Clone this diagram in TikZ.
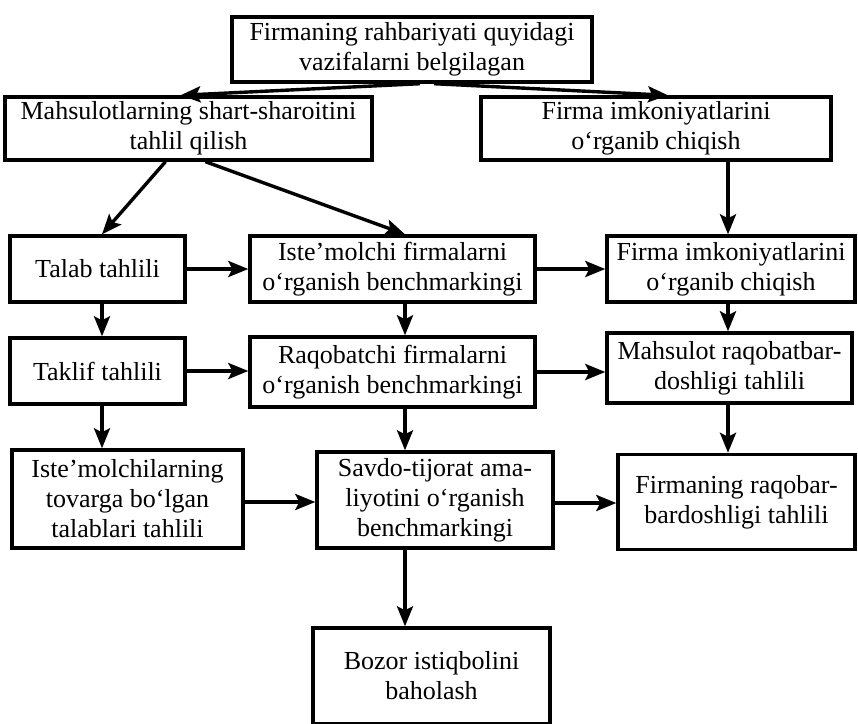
\documentclass[tikz,border=0pt]{standalone}
\usepackage{fontspec}
\setmainfont{Liberation Serif}
\usetikzlibrary{arrows.meta}
\begin{document}
\begin{tikzpicture}[x=1pt,y=-1pt,
  box/.style={draw=black,line width=3.4pt,rectangle,align=center,inner sep=2pt,
    font=\fontsize{26}{30}\selectfont},
  link/.style={line width=3.4pt,-{Stealth[length=20pt,width=16pt,inset=4pt]}}]
\useasboundingbox[fill=white] (0,0) rectangle (858,723);

% boxes (centre, width, height)
\node[box,minimum width=360pt,minimum height=65pt] (top) at (412,49.5)
  {Firmaning rahbariyati quyidagi\\vazifalarni belgilagan};
\node[box,minimum width=367pt,minimum height=63pt] (shart) at (188.5,128.5)
  {Mahsulotlarning shart-sharoitini\\tahlil qilish};
\node[box,minimum width=350pt,minimum height=63pt] (imk) at (656,128.5)
  {Firma imkoniyatlarini\\o‘rganib chiqish};

\node[box,minimum width=175pt,minimum height=66pt] (talab) at (97.5,269)
  {Talab tahlili};
\node[box,minimum width=285pt,minimum height=66pt] (istfirm) at (392.5,269)
  {Iste’molchi firmalarni\\o‘rganish benchmarkingi};
\node[box,minimum width=248pt,minimum height=66pt] (imkb) at (731,269)
  {Firma imkoniyatlarini\\o‘rganib chiqish};

\node[box,minimum width=175pt,minimum height=66pt] (taklif) at (97.5,371)
  {Taklif tahlili};
\node[box,minimum width=285pt,minimum height=70pt] (raqob) at (392.5,372)
  {Raqobatchi firmalarni\\o‘rganish benchmarkingi};
\node[box,minimum width=245pt,minimum height=70pt] (mahs) at (729.5,368)
  {Mahsulot raqobatbar-\\doshligi tahlili};

\node[box,minimum width=231pt,minimum height=98pt] (istlar) at (127.5,499)
  {Iste’molchilarning\\tovarga bo‘lgan\\talablari tahlili};
\node[box,minimum width=236pt,minimum height=96pt] (savdo) at (435,500)
  {Savdo-tijorat ama-\\liyotini o‘rganish\\benchmarkingi};
\node[box,minimum width=237pt,minimum height=95pt] (raqbard) at (736.5,502)
  {Firmaning raqobar-\\bardoshligi tahlili};

\node[box,minimum width=237pt,minimum height=96pt] (bozor) at (431.5,676)
  {Bozor istiqbolini\\baholash};

% column lines for the vertical arrows
\coordinate (colA) at (102,0);
\coordinate (colB) at (405,0);
\coordinate (colC) at (728,0);

% from the top box
\draw[link] ([xshift=8pt]top.south) -- ([xshift=-8pt]shart.north);
\draw[link] ([xshift=22pt]top.south) -- ([xshift=12pt]imk.north);

% from the second row
\draw[link] ([xshift=-23pt]shart.south) -- (talab.north -| colA);
\draw[link] ([xshift=17pt]shart.south) -- (istfirm.north -| colB);
\draw[link] (imk.south -| colC) -- (imkb.north -| colC);

% horizontal links
\draw[link] (talab.east) -- (talab.east -| istfirm.west);
\draw[link] (istfirm.east) -- (istfirm.east -| imkb.west);
\draw[link] (taklif.east) -- (taklif.east -| raqob.west);
\draw[link] (raqob.east) -- (raqob.east -| mahs.west);
\draw[link] ([yshift=-3pt]istlar.east) -- ([yshift=-3pt]istlar.east -| savdo.west);
\draw[link] ([yshift=-3pt]savdo.east) -- ([yshift=-3pt]savdo.east -| raqbard.west);

% vertical links
\draw[link] (talab.south -| colA) -- (taklif.north -| colA);
\draw[link] (istfirm.south -| colB) -- (raqob.north -| colB);
\draw[link] (imkb.south -| colC) -- (mahs.north -| colC);
\draw[link] (taklif.south -| colA) -- (istlar.north -| colA);
\draw[link] (raqob.south -| colB) -- (savdo.north -| colB);
\draw[link] (mahs.south -| colC) -- (raqbard.north -| colC);
\draw[link] (savdo.south -| colB) -- (bozor.north -| colB);
\end{tikzpicture}
\end{document}
